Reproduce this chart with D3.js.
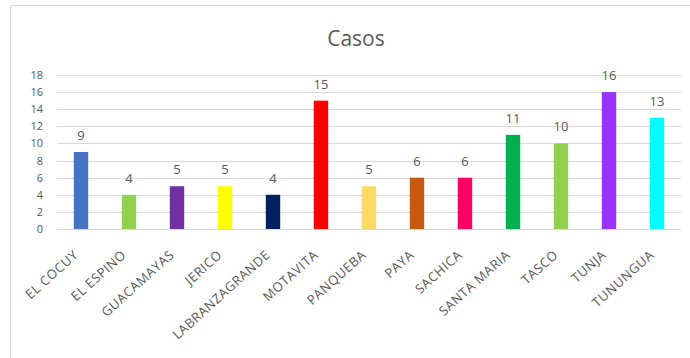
<!DOCTYPE html>
<html>
  <head>
    <meta charset="utf-8">
    <title>Casos</title>
    <script src="https://d3js.org/d3.v7.min.js"></script>
    <style>
      body { margin: 0; background: #fff; }
      .chart { font-family: "Open Sans", sans-serif; }
      .grid line { stroke: #d9d9d9; stroke-width: 1; shape-rendering: crispEdges; }
    </style>
  </head>
  <body>
    <svg class="chart"></svg>
    <script>
      // Chart data
      const categories = ["EL COCUY", "EL ESPINO", "GUACAMAYAS", "JERICO", "LABRANZAGRANDE",
        "MOTAVITA", "PANQUEBA", "PAYA", "SACHICA", "SANTA MARIA", "TASCO", "TUNJA", "TUNUNGUA"];
      const casos = [9, 4, 5, 5, 4, 15, 5, 6, 6, 11, 10, 16, 13];
      const colors = ["#4472c4", "#92d050", "#7030a0", "#ffff00", "#002060", "#ff0000",
        "#ffd966", "#c55a11", "#ff0066", "#00b050", "#92d050", "#9933ff", "#00ffff"];
      const yTicks = [0, 2, 4, 6, 8, 10, 12, 14, 16, 18];

      const W = 690, H = 358;
      const margin = { top: 75, right: 9, bottom: 129, left: 57 };
      const width = W - margin.left - margin.right;
      const height = H - margin.top - margin.bottom;
      const textColor = "#595959";

      const root = d3.select(".chart").attr("width", W).attr("height", H);

      // chart frame (top and left edges visible)
      root.append("path")
        .attr("d", "M10.5,358 V5.5 H690")
        .attr("fill", "none")
        .attr("stroke", "#d9d9d9");

      root.append("text")
        .attr("x", 356).attr("y", 46)
        .attr("text-anchor", "middle")
        .attr("font-size", 21)
        .attr("fill", textColor)
        .text("Casos");

      const svg = root.append("g")
        .attr("transform", "translate(" + margin.left + "," + margin.top + ")");

      const x = d3.scaleBand().domain(categories).range([0, width]).paddingInner(0.7).paddingOuter(0.35);
      const y = d3.scaleLinear().domain([0, 18]).range([height, 0]);

      // gridlines
      svg.append("g").attr("class", "grid")
        .selectAll("line").data(yTicks).enter().append("line")
        .attr("x1", 0).attr("x2", width)
        .attr("y1", d => Math.round(y(d)) + 0.5).attr("y2", d => Math.round(y(d)) + 0.5);

      // y axis
      const yAxis = svg.append("g")
        .call(d3.axisLeft(y).tickValues(yTicks).tickSize(0).tickPadding(14));
      yAxis.select(".domain").remove();
      yAxis.selectAll("text")
        .attr("font-size", 11)
        .attr("font-family", "Open Sans, sans-serif")
        .attr("fill", textColor);

      // bars
      svg.selectAll(".bar").data(casos).enter().append("rect")
        .attr("class", "bar")
        .attr("x", (d, i) => x(categories[i]))
        .attr("width", x.bandwidth())
        .attr("y", d => y(d))
        .attr("height", d => height - y(d))
        .attr("fill", (d, i) => colors[i]);

      // value labels
      svg.selectAll(".value").data(casos).enter().append("text")
        .attr("class", "value")
        .attr("x", (d, i) => x(categories[i]) + x.bandwidth() / 2)
        .attr("y", d => y(d) - 12)
        .attr("text-anchor", "middle")
        .attr("font-size", 13)
        .attr("fill", textColor)
        .text(d => d);

      // x axis
      const xAxis = svg.append("g")
        .attr("transform", "translate(0," + height + ")")
        .call(d3.axisBottom(x).tickSize(0).tickPadding(0));
      xAxis.select(".domain").remove();
      xAxis.selectAll("text")
        .attr("font-size", 13)
        .attr("font-family", "Open Sans, sans-serif")
        .attr("letter-spacing", 0.6)
        .attr("fill", textColor)
        .attr("text-anchor", "end")
        .attr("dy", 0)
        .attr("transform", "translate(-2,27) rotate(-42)");
    </script>
  </body>
</html>
